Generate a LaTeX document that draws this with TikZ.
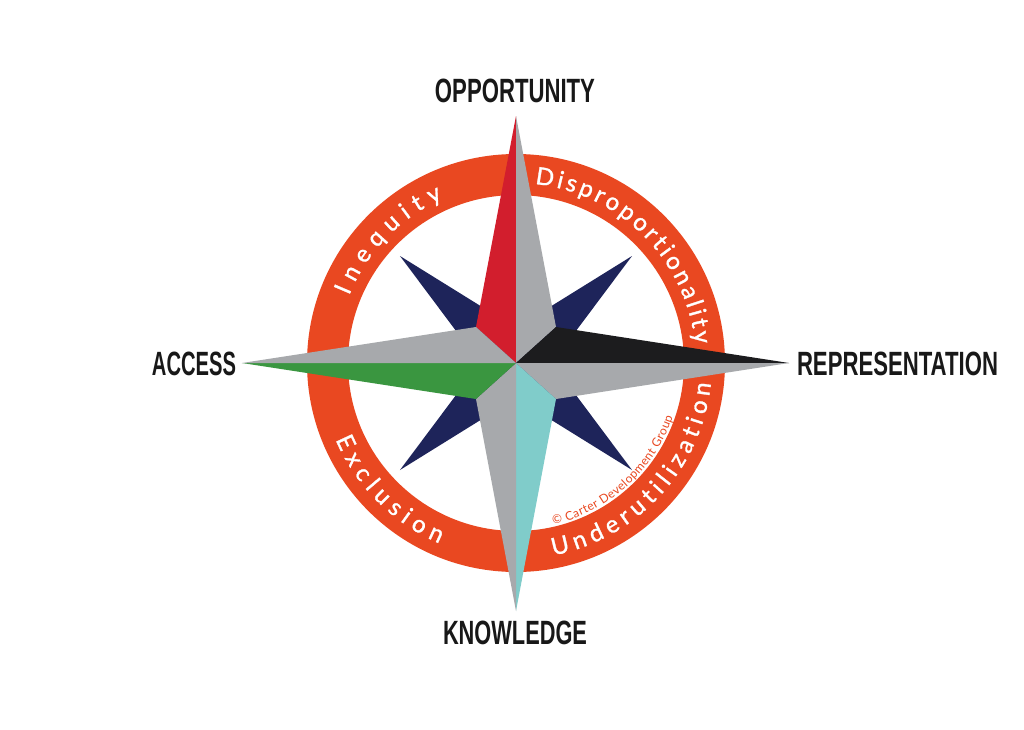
\documentclass[tikz,border=0pt]{standalone}
\usepackage{fontspec}
\setmainfont{Lato}
\newfontfamily\labelfont{Liberation Sans}
\newfontfamily\ringfamily[FakeBold=1.2]{Lato}
\usetikzlibrary{decorations.text}
\definecolor{ringorange}{RGB}{233,72,33}
\definecolor{starred}{RGB}{210,30,45}
\definecolor{stargray}{RGB}{167,169,172}
\definecolor{starblack}{RGB}{28,28,30}
\definecolor{starteal}{RGB}{128,204,202}
\definecolor{stargreen}{RGB}{58,150,64}
\definecolor{starnavy}{RGB}{30,36,90}
\definecolor{labelblack}{RGB}{24,24,24}
\newcommand\ringfont{\ringfamily\fontsize{24}{24}\selectfont}
\newcommand\copyfont{\fontsize{12}{12}\selectfont}
\newcommand\lbltext[2]{\resizebox{#1}{23.5pt}{\labelfont\bfseries\fontsize{33}{33}\selectfont #2}}
\tikzset{
  lbl/.style={inner sep=0pt, text=labelblack},
}
\begin{document}
\begin{tikzpicture}[x=1pt,y=1pt]
\useasboundingbox (-516,-366) rectangle (508,363);
\fill[white] (-516,-366) rectangle (508,363);
% ring
\fill[ringorange,even odd rule] (0,0) circle (209pt) (0,0) circle (168pt);
% ring words
\path[decorate, decoration={text along path, text align=fit to path, text color=white,
  text={|\ringfont|Inequity}}] (158:180pt) arc[start angle=158, end angle=114, radius=180pt];
\path[decorate, decoration={text along path, text align=fit to path, text color=white,
  text={|\ringfont|Disproportionality}}] (84:180pt) arc[start angle=84, end angle=6, radius=180pt];
\path[decorate, decoration={text along path, text align=fit to path, text color=white,
  text={|\ringfont|Exclusion}}] (203:196pt) arc[start angle=203, end angle=247, radius=196pt];
\path[decorate, decoration={text along path, text align=fit to path, text color=white,
  text={|\ringfont|Underutilization}}] (281:196pt) arc[start angle=281, end angle=354, radius=196pt];
% navy diagonal star
\fill[starnavy] (116,107) -- (0,35) -- (-116,107) -- (-36,0) -- (-116,-107)
  -- (0,-35) -- (116,-107) -- (36,0) -- cycle;
% main star
\coordinate (O) at (0,0);
\coordinate (T) at (0,247);
\coordinate (B) at (0,-248);
\coordinate (L) at (-274,0);
\coordinate (R) at (273,0);
\coordinate (a) at (-40,36);
\coordinate (b) at (40,36);
\coordinate (c) at (40,-36);
\coordinate (d) at (-40,-36);
\fill[starred]   (O) -- (T) -- (a) -- cycle;
\fill[stargray]  (O) -- (T) -- (b) -- cycle;
\fill[starblack] (O) -- (b) -- (R) -- cycle;
\fill[stargray]  (O) -- (R) -- (c) -- cycle;
\fill[starteal]  (O) -- (c) -- (B) -- cycle;
\fill[stargray]  (O) -- (B) -- (d) -- cycle;
\fill[stargreen] (O) -- (d) -- (L) -- cycle;
\fill[stargray]  (O) -- (L) -- (a) -- cycle;
% copyright
\path[decorate, decoration={text along path, text align=fit to path, text color=ringorange,
  text={|\copyfont|© Carter Development Group}}] (-77:166pt) arc[start angle=-77, end angle=-19, radius=166pt];
% labels
\node[lbl] (opp) at (-1,272) {\lbltext{160pt}{OPPORTUNITY}};
\node[lbl] (acc) at (-322,-1) {\lbltext{84pt}{ACCESS}};
\node[lbl] (rep) at (381.5,-1) {\lbltext{201pt}{REPRESENTATION}};
\node[lbl] (kno) at (-1,-270) {\lbltext{144pt}{KNOWLEDGE}};
\end{tikzpicture}
\end{document}
